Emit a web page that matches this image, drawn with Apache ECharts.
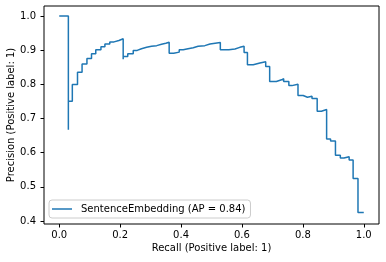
<!DOCTYPE html>
<html>
<head>
<meta charset="utf-8">
<script src="https://cdn.jsdelivr.net/npm/echarts@6/dist/echarts.min.js"></script>
<style>
  html, body { margin: 0; padding: 0; background: #fff; }
  #chart { width: 386px; height: 262px; }
</style>
</head>
<body>
<div id="chart"></div>
<script>
// precision-recall curve, points (increasing recall)
var recall = [0, 0.03, 0.03, 0.043, 0.06, 0.075, 0.091, 0.106, 0.12, 0.137, 0.15, 0.166, 0.18, 0.196, 0.21,
  0.21, 0.225, 0.243, 0.256, 0.270, 0.287, 0.303, 0.320, 0.336, 0.350, 0.361,
  0.376, 0.394, 0.407, 0.423, 0.44, 0.456, 0.478, 0.495, 0.529,
  0.557, 0.577, 0.593, 0.607, 0.618, 0.637, 0.659, 0.678, 0.691,
  0.713, 0.730, 0.737, 0.754, 0.764, 0.784, 0.801, 0.815, 0.830, 0.847,
  0.861, 0.878, 0.891, 0.907, 0.923, 0.935, 0.952, 0.965, 0.981, 1.0];
var precision = [1.0, 1.0, 0.667, 0.75, 0.799, 0.835, 0.859, 0.875, 0.889, 0.901, 0.91, 0.918, 0.924, 0.928, 0.933,
  0.873, 0.881, 0.889, 0.899, 0.904, 0.908, 0.911, 0.913, 0.917, 0.920, 0.923,
  0.891, 0.894, 0.901, 0.904, 0.907, 0.911, 0.913, 0.918, 0.922,
  0.901, 0.903, 0.908, 0.911, 0.893, 0.857, 0.862, 0.866, 0.852,
  0.808, 0.813, 0.816, 0.808, 0.796, 0.800, 0.767, 0.762, 0.765, 0.758,
  0.721, 0.726, 0.640, 0.634, 0.592, 0.584, 0.588, 0.578, 0.524, 0.425];
var xTicks = [0, 0.2, 0.4, 0.6, 0.8, 1.0];
var yTicks = [0.4, 0.5, 0.6, 0.7, 0.8, 0.9, 1.0];
var seriesName = 'SentenceEmbedding (AP = 0.84)';

var points = recall.map(function(r, i){ return [r, precision[i]]; });
var font = 'DejaVu Sans';
var fmt = function(v){ return v.toFixed(1); };

var chart = echarts.init(document.getElementById('chart'));
chart.setOption({
  animation: false,
  backgroundColor: '#fff',
  grid: {
    left: 44, right: 7, top: 6, bottom: 38,
    outerBoundsMode: 'none', containLabel: false,
    show: true, borderColor: '#000', borderWidth: 1, backgroundColor: 'transparent'
  },
  legend: {
    left: 49, top: 200,
    padding: [3, 5, 3, 3],
    icon: 'rect', itemWidth: 20, itemHeight: 1.5,
    backgroundColor: 'rgba(255,255,255,0.8)',
    borderColor: '#cccccc', borderWidth: 1, borderRadius: 3,
    textStyle: { fontFamily: font, fontSize: 10, color: '#000', lineHeight: 12, padding: [0, 0, 0, 4] },
    data: [seriesName]
  },
  xAxis: {
    type: 'value', min: -0.05, max: 1.05,
    name: 'Recall (Positive label: 1)', nameLocation: 'middle', nameGap: 19,
    nameMoveOverlap: false,
    nameTextStyle: { fontFamily: font, fontSize: 10, color: '#000' },
    axisLine: { show: false, onZero: false },
    axisTick: { show: true, length: 3.5, customValues: xTicks, lineStyle: { color: '#000' } },
    axisLabel: { customValues: xTicks, formatter: fmt, margin: 6, fontFamily: font, fontSize: 10, color: '#000' },
    splitLine: { show: false }
  },
  yAxis: {
    type: 'value', min: 0.391, max: 1.029,
    name: 'Precision (Positive label: 1)', nameLocation: 'middle', nameGap: 28,
    nameMoveOverlap: false,
    nameTextStyle: { fontFamily: font, fontSize: 10, color: '#000' },
    axisLine: { show: false, onZero: false },
    axisTick: { show: true, length: 3.5, customValues: yTicks, lineStyle: { color: '#000' } },
    axisLabel: { customValues: yTicks, formatter: fmt, margin: 8, fontFamily: font, fontSize: 10, color: '#000' },
    splitLine: { show: false }
  },
  series: [{
    name: seriesName,
    type: 'line',
    step: 'start',
    symbol: 'none',
    data: points,
    itemStyle: { color: '#1f77b4' },
    lineStyle: { color: '#1f77b4', width: 1.5 }
  }]
});
</script>
</body>
</html>
